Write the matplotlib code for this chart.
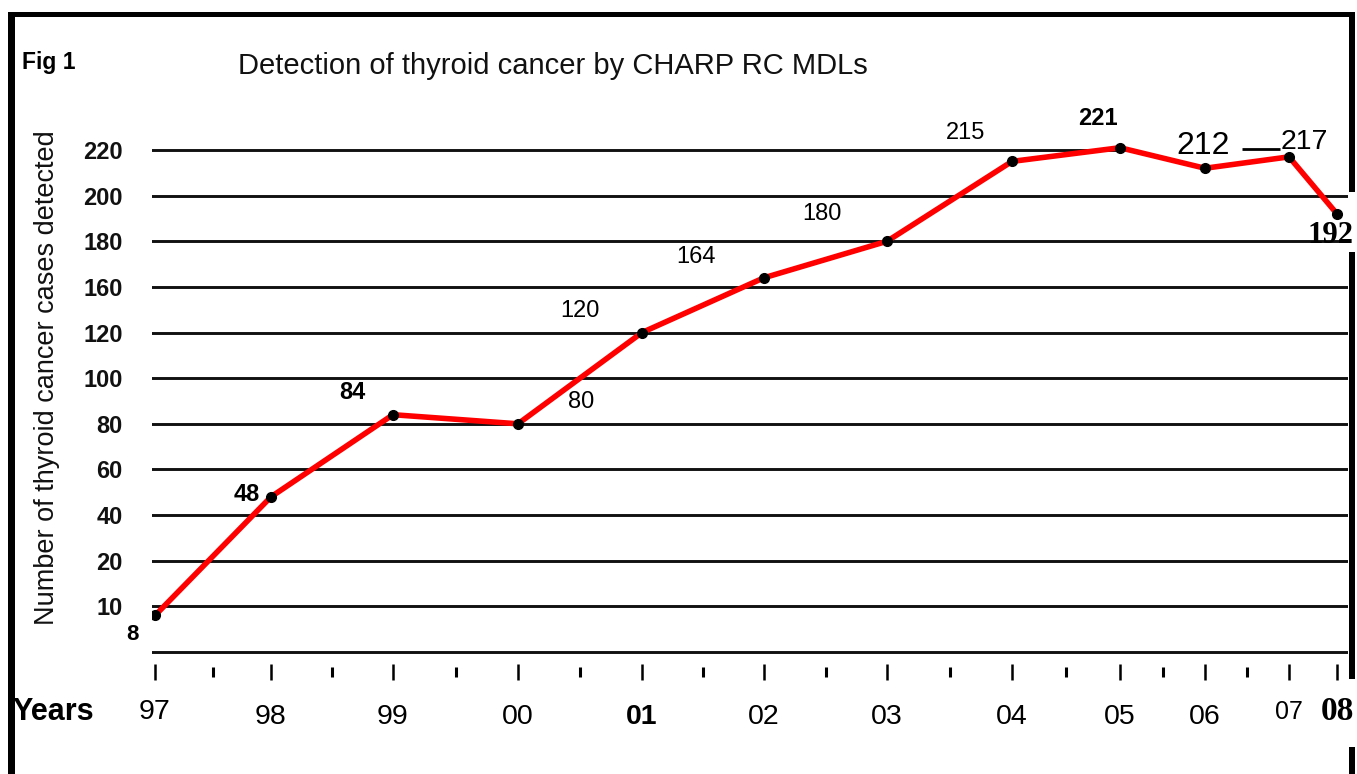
import numpy as np
import matplotlib
matplotlib.use("Agg")
import matplotlib.pyplot as plt
from matplotlib.patches import Rectangle
from matplotlib.transforms import ScaledTranslation

# ---------------- data ----------------
years = ['97', '98', '99', '00', '01', '02', '03', '04', '05', '06', '07', '08']
cases = [8, 48, 84, 80, 120, 164, 180, 215, 221, 212, 217, 192]
y_tick_values = [0, 10, 20, 40, 60, 80, 100, 120, 160, 180, 200, 220]
y_tick_labels = ['', '10', '20', '40', '60', '80', '100', '120', '160', '180', '200', '220']
title = 'Detection of thyroid cancer by CHARP RC MDLs'
y_title = 'Number of thyroid cancer cases detected'

# ---------------- layout (pixels) ----------------
W, H, DPI = 1357, 774, 100
AX_L, AX_R, AX_T, AX_B = 152, 1348, 100, 672
ZERO_Y, STEP = 652, (652 - 150) / 11.0
X_BREAKS = [155, 271, 393, 518, 642, 764, 887, 1012, 1120, 1205, 1289, 1337]
FONT = 'Liberation Sans'
SERIF = 'Liberation Serif'


def piecewise(xp, fp):
    xp = np.asarray(xp, float)
    fp = np.asarray(fp, float)

    def f(v):
        v = np.asarray(v, float)
        out = np.interp(v, xp, fp)
        lo_s = (fp[1] - fp[0]) / (xp[1] - xp[0])
        hi_s = (fp[-1] - fp[-2]) / (xp[-1] - xp[-2])
        out = np.where(v < xp[0], fp[0] + (v - xp[0]) * lo_s, out)
        out = np.where(v > xp[-1], fp[-1] + (v - xp[-1]) * hi_s, out)
        return out
    return f


fig = plt.figure(figsize=(W / DPI, H / DPI), dpi=DPI, facecolor='white')
ax = fig.add_axes([AX_L / W, 1 - AX_B / H, (AX_R - AX_L) / W, (AX_B - AX_T) / H])

idx = list(range(len(years)))
fx, ix = piecewise(idx, X_BREAKS), piecewise(X_BREAKS, idx)
units = list(range(len(y_tick_values)))
fy, iy = piecewise(y_tick_values, units), piecewise(units, y_tick_values)
ax.set_xscale('function', functions=(fx, ix))
ax.set_yscale('function', functions=(fy, iy))

# gridlines
for v in y_tick_values:
    ax.axhline(v, color='#111111', lw=2.1, zorder=1,
               xmax=(0.818 if v == 220 else 1.0))

# data line
ax.plot(idx, cases, color='#ff0000', lw=4, zorder=3, solid_capstyle='round',
        solid_joinstyle='round')
ax.plot(idx, cases, 'o', color='black', ms=7, zorder=4)

ax.set_xlim(float(ix(AX_L)), float(ix(AX_R)))
ax.set_ylim(float(iy(-(AX_B - ZERO_Y) / STEP)), float(iy((ZERO_Y - AX_T) / STEP)))

for s in ax.spines.values():
    s.set_visible(False)

ax.set_yticks(y_tick_values, labels=y_tick_labels, fontsize=17,
              fontweight='bold', family=FONT, color='#111111')
ax.tick_params(axis='y', length=0, pad=21)

ax.set_xticks(idx, labels=[''] * len(idx))
ax.set_xticks(np.arange(len(idx) - 2) + 0.5, minor=True)
ax.tick_params(axis='x', which='major', direction='inout', length=12, width=1.8,
               color='black')
ax.tick_params(axis='x', which='minor', direction='inout', length=7.5, width=2.2,
               color='black')

# year labels
year_style = {'07': dict(fontsize=18, family=FONT, dy=-40),
              '08': dict(fontsize=24, family=SERIF, fontweight='bold', dy=-40),
              '97': dict(fontsize=20.5, family=FONT, dy=-40),
              '01': dict(fontsize=20.5, family=FONT, fontweight='bold', dy=-45)}
for i, y in enumerate(years):
    st = dict(fontsize=20.5, family=FONT, dy=-45)
    st.update(year_style.get(y, {}))
    dy = st.pop('dy')
    ax.annotate(y, xy=(i, 0), xycoords=('data', 'axes fraction'),
                xytext=(0, dy), textcoords='offset pixels',
                ha='center', va='center', annotation_clip=False, **st)

# data labels
label_offsets = [(-23, -19.5), (-24, 2), (-41, 22), (63, 22), (-62, 21.5),
                 (-68, 21), (-65, 27), (-46, 28), (-22, 29), (-2, 22),
                 (15, 15), (-7, -22)]
label_style = {8: dict(fontweight='bold', fontsize=16),
               48: dict(fontweight='bold'), 84: dict(fontweight='bold'),
               221: dict(fontweight='bold'),
               212: dict(fontsize=23), 217: dict(fontsize=20.5),
               192: dict(fontsize=22, family=SERIF, fontweight='bold')}
for i, (v, off) in enumerate(zip(cases, label_offsets)):
    st = dict(fontsize=17, family=FONT)
    st.update(label_style.get(v, {}))
    ax.annotate(str(v), xy=(i, v), xytext=off, textcoords='offset pixels',
                ha='center', va='center', annotation_clip=False, zorder=5, **st)

# small leader dash left of the "217" label
ax.plot([idx[10]], [cases[10]], marker='_', ms=38 / 1.389, mew=2, color='black',
        transform=ax.transData + ScaledTranslation(-28 / DPI, 8 / DPI,
                                                   fig.dpi_scale_trans),
        zorder=5, clip_on=False)

# axis title
ax.set_ylabel(y_title, fontsize=19.5, family=FONT, color='#111111')
ax.yaxis.label.set_va('center')
ax.yaxis.set_label_coords((47 - AX_L) / (AX_R - AX_L), (AX_B - 378) / (AX_B - AX_T))


def px(x, y):
    return x / W, 1 - y / H


fig.text(*px(238, 74), title, fontsize=21, family=FONT, ha='left', va='baseline',
         color='#111111')
fig.text(*px(22, 69), 'Fig 1', fontsize=16.5, fontweight='bold', family=FONT,
         ha='left', va='baseline')
fig.text(*px(12, 712), 'Years', fontsize=22, fontweight='bold', family=FONT,
         ha='left', va='center')


def rect(x0, y0, x1, y1):
    fig.add_artist(Rectangle((x0 / W, 1 - y1 / H), (x1 - x0) / W, (y1 - y0) / H,
                             transform=fig.transFigure, color='black', lw=0))


rect(8, 12, 15, 774)
rect(8, 12, 1355, 17)
rect(1349, 12, 1355, 192)
rect(1349, 252, 1355, 679)
rect(1349, 747, 1355, 774)

fig.savefig('out.png', dpi=DPI, facecolor='white')
